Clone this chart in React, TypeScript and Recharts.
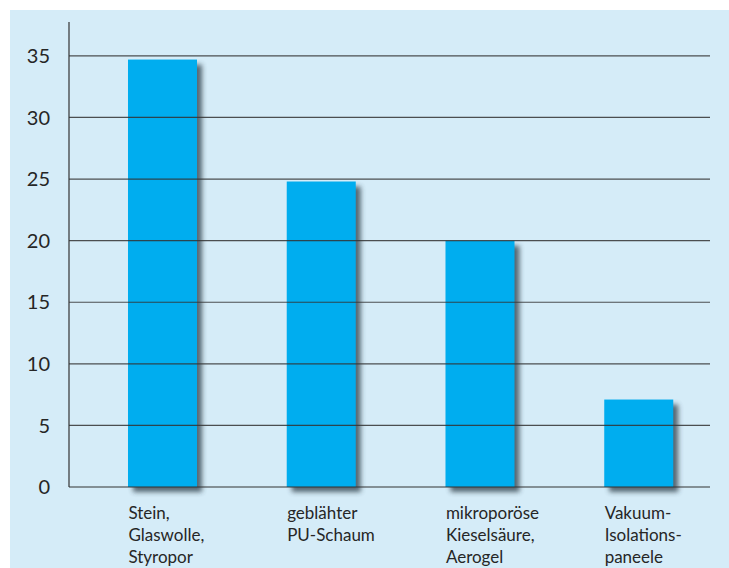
import React from "react";
import { BarChart, Bar, XAxis, YAxis, ReferenceLine } from "recharts";

// Dämmstoff-Kategorien (Zeilen der Achsenbeschriftung)
const categories = [
  "Stein, Glaswolle, Styropor",
  "geblähter PU-Schaum",
  "mikroporöse Kieselsäure, Aerogel",
  "Vakuum-Isolationspaneele",
];
const categoryLines: string[][] = [
  ["Stein,", "Glaswolle,", "Styropor"],
  ["geblähter", "PU-Schaum"],
  ["mikroporöse", "Kieselsäure,", "Aerogel"],
  ["Vakuum-", "Isolations-", "paneele"],
];
const values = [34.7, 24.8, 20.0, 7.1];
const yTicks = [0, 5, 10, 15, 20, 25, 30, 35];

const data = categories.map((name, i) => ({ name, value: values[i] }));

const FONT = "Lato, 'DejaVu Sans', sans-serif";
const TEXT = "#262626";
const LINE = "#333";

function ShadowBar(props: any) {
  const { x, y, width, height } = props;
  return (
    <g>
      <rect x={x + 5} y={y + 5} width={width} height={height} fill="#2c3a44" opacity={0.75} filter="url(#barShadow)" />
      <rect x={x} y={y} width={width} height={height} fill="#00adef" />
    </g>
  );
}

function CategoryTick(props: any) {
  const { x, y, payload } = props;
  const idx = categories.indexOf(payload.value);
  const lines = categoryLines[idx] || [payload.value];
  return (
    <text x={x - 34} y={y + 32} fill={TEXT} fontSize={17} fontFamily={FONT} textAnchor="start">
      {lines.map((l, i) => (
        <tspan key={i} x={x - 34} dy={i === 0 ? 0 : 22}>
          {l}
        </tspan>
      ))}
    </text>
  );
}

export default function App() {
  return (
    <div style={{ position: "absolute", left: 0, top: 0, width: 729, height: 568, background: "#fff" }}>
      <svg width={0} height={0} style={{ position: "absolute" }}>
        <defs>
          <filter id="barShadow" x="-20%" y="-20%" width="140%" height="140%">
            <feGaussianBlur stdDeviation="2.5" />
          </filter>
        </defs>
      </svg>
      <div style={{ position: "absolute", left: 10, top: 10, width: 719, height: 558, background: "#d5ecf8" }} />
      <div style={{ position: "absolute", left: 0, top: 0 }}>
        <BarChart
          width={729}
          height={568}
          data={data}
          margin={{ top: 22, right: 19, left: 9, bottom: 21 }}
        >
          <XAxis
            dataKey="name"
            height={60}
            padding={{ left: 14, right: -8 }}
            tickLine={false}
            tickSize={0}
            tickMargin={0}
            axisLine={{ stroke: LINE, strokeWidth: 1.2 }}
            tick={<CategoryTick />}
            interval={0}
          />
          <YAxis
            width={60}
            domain={[0, 37.75]}
            ticks={yTicks}
            tickLine={false}
            tickSize={0}
            tickMargin={19}
            axisLine={{ stroke: LINE, strokeWidth: 1.2 }}
            tick={{ fontSize: 20, fill: TEXT, fontFamily: FONT }}
          />
          <Bar dataKey="value" barSize={69} shape={<ShadowBar />} isAnimationActive={false} />
          {yTicks
            .filter((t) => t > 0)
            .map((t) => (
              <ReferenceLine key={t} y={t} stroke={LINE} strokeWidth={1.2} strokeOpacity={0.85} />
            ))}
        </BarChart>
      </div>
    </div>
  );
}
